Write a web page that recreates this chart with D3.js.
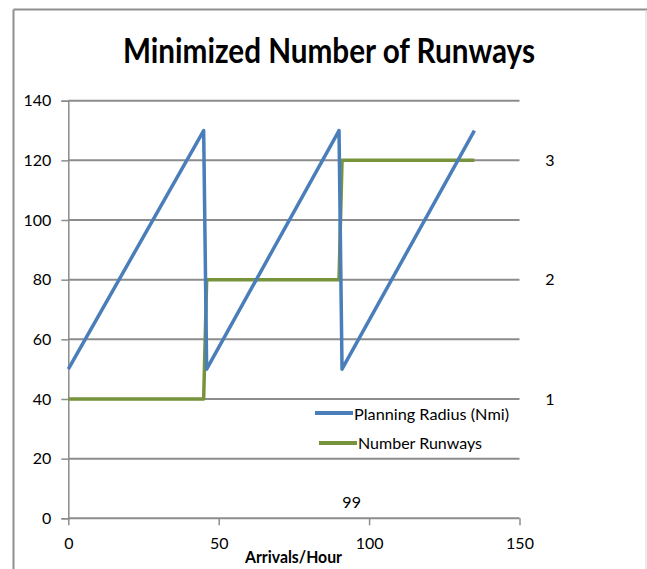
<!DOCTYPE html>
<html>
<head>
<meta charset="utf-8">
<script src="https://cdn.jsdelivr.net/npm/d3@7"></script>
<style>
  html, body { margin: 0; padding: 0; background: #fff; }
  svg { display: block; font-family: Lato, "Liberation Sans", sans-serif; }
</style>
</head>
<body>
<svg id="chart" width="647" height="569"></svg>
<script>
// Arrivals per hour at each breakpoint of the two series
const arrivals = [0, 45, 46, 90, 91, 135];
// Planning radius (Nmi) on the left axis
const planningRadius = [50, 130, 50, 130, 50, 130];
// Number of runways on the right axis
const runways = [1, 1, 2, 2, 3, 3];

const xTicks = [0, 50, 100, 150];
const yTicks = [0, 20, 40, 60, 80, 100, 120, 140];
const rightTicks = [1, 2, 3];

const seriesNames = ["Planning Radius (Nmi)", "Number Runways"];
const titleText = "Minimized Number of Runways";
const xTitle = "Arrivals/Hour";
const note = { x: 94.2, y: 3.5, text: "99" };

const colors = { blue: "#4a7ebb", green: "#77933c", grid: "#8c8c8c" };
const tickFont = 16;

const svg = d3.select("#chart");

// outer frame of the chart area
svg.append("line").attr("x1", 13.5).attr("x2", 13.5).attr("y1", 9.5).attr("y2", 569)
  .attr("stroke", "#8f8f8f").attr("stroke-width", 2);
svg.append("line").attr("x1", 13.5).attr("x2", 647).attr("y1", 9.5).attr("y2", 9.5)
  .attr("stroke", "#8f8f8f").attr("stroke-width", 2);
svg.append("line").attr("x1", 646).attr("x2", 646).attr("y1", 10).attr("y2", 569)
  .attr("stroke", "#d4d4d4").attr("stroke-width", 1);

const x = d3.scaleLinear().domain([0, 150]).range([68.3, 519.5]);
const y = d3.scaleLinear().domain([0, 140]).range([518.3, 100.7]);
const yR = d3.scaleLinear().domain([0, 3.5]).range([518.3, 100.7]);

// horizontal gridlines
svg.append("g").selectAll("line").data(yTicks).join("line")
  .attr("x1", x(0)).attr("x2", x(150))
  .attr("y1", d => y(d)).attr("y2", d => y(d))
  .attr("stroke", colors.grid).attr("stroke-width", 2);

// left axis
const yAxis = svg.append("g")
  .attr("transform", `translate(${x(0)},0)`)
  .call(d3.axisLeft(y).tickValues(yTicks).tickSize(7).tickPadding(10));
yAxis.select(".domain").attr("stroke", colors.grid).attr("stroke-width", 1.5);
yAxis.selectAll(".tick line").attr("stroke", colors.grid).attr("stroke-width", 1.5);
yAxis.selectAll(".tick text").attr("font-size", tickFont).attr("fill", "#000")
  .attr("font-family", "Lato, 'Liberation Sans', sans-serif");

// bottom axis
const xAxis = svg.append("g")
  .attr("transform", `translate(0,${y(0)})`)
  .call(d3.axisBottom(x).tickValues(xTicks).tickSize(7).tickPadding(12));
xAxis.select(".domain").remove();
xAxis.selectAll(".tick line").attr("stroke", colors.grid).attr("stroke-width", 1.5);
xAxis.selectAll(".tick text").attr("font-size", tickFont).attr("fill", "#000")
  .attr("font-family", "Lato, 'Liberation Sans', sans-serif");

// right axis labels (runways)
svg.append("g").selectAll("text").data(rightTicks).join("text")
  .attr("x", 550).attr("y", d => yR(d)).attr("dy", "0.35em")
  .attr("text-anchor", "middle").attr("font-size", tickFont).text(d => d);

// series lines
const radiusLine = d3.line().x((d, i) => x(arrivals[i])).y(d => y(d));
const runwayLine = d3.line().x((d, i) => x(arrivals[i])).y(d => yR(d));

svg.append("path").datum(runways).attr("d", runwayLine)
  .attr("fill", "none").attr("stroke", colors.green).attr("stroke-width", 3.5)
  .attr("stroke-linejoin", "round");
svg.append("path").datum(planningRadius).attr("d", radiusLine)
  .attr("fill", "none").attr("stroke", colors.blue).attr("stroke-width", 3.5)
  .attr("stroke-linejoin", "round");

// legend
const legend = svg.append("g");
const legendRows = [
  { name: seriesNames[0], color: colors.blue, x1: 315, x2: 353, ly: 413, tx: 354, ty: 419.5, w: 155 },
  { name: seriesNames[1], color: colors.green, x1: 319, x2: 357, ly: 443, tx: 358, ty: 449, w: 124 }
];
legendRows.forEach(r => {
  legend.append("line").attr("x1", r.x1).attr("x2", r.x2).attr("y1", r.ly).attr("y2", r.ly)
    .attr("stroke", r.color).attr("stroke-width", 4);
  legend.append("text").attr("x", r.tx).attr("y", r.ty).attr("font-size", 16)
    .attr("textLength", r.w).attr("lengthAdjust", "spacingAndGlyphs").text(r.name);
});

// note label inside the plot
svg.append("text").attr("x", x(note.x)).attr("y", y(note.y))
  .attr("text-anchor", "middle").attr("font-size", tickFont).text(note.text);

// title
svg.append("text").attr("x", 329).attr("y", 63).attr("text-anchor", "middle")
  .attr("font-size", 35).attr("font-weight", "bold")
  .attr("textLength", 412).attr("lengthAdjust", "spacingAndGlyphs").text(titleText);

// x-axis title
svg.append("text").attr("x", 293.5).attr("y", 563).attr("text-anchor", "middle")
  .attr("font-size", 17).attr("font-weight", "bold")
  .attr("textLength", 97).attr("lengthAdjust", "spacingAndGlyphs").text(xTitle);
</script>
</body>
</html>
